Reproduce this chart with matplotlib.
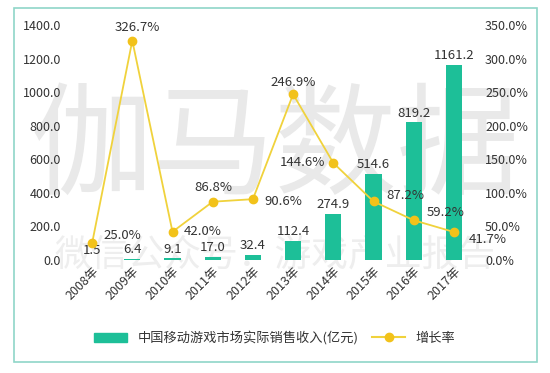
import matplotlib
matplotlib.use("Agg")
import matplotlib.pyplot as plt
from matplotlib.patches import Rectangle
from matplotlib.lines import Line2D

plt.rcParams['font.family'] = ['Noto Sans CJK SC', 'DejaVu Sans']

# data
years = ["2008年", "2009年", "2010年", "2011年", "2012年",
         "2013年", "2014年", "2015年", "2016年", "2017年"]
revenue = [1.5, 6.4, 9.1, 17.0, 32.4, 112.4, 274.9, 514.6, 819.2, 1161.2]
growth = [25.0, 326.7, 42.0, 86.8, 90.6, 246.9, 144.6, 87.2, 59.2, 41.7]
bar_name = "中国移动游戏市场实际销售收入(亿元)"
line_name = "增长率"

# where each growth label sits relative to its point (pixels)
growth_offsets = [(30, 8), (5, 13), (30, 0), (1, 14), (30, -2),
                  (0, 12), (-31, 0), (32, 6), (32, 8), (34, -7)]

bar_color = "#1dbf98"
line_color = "#f0d23c"
marker_color = "#f2c21a"
text_color = "#333333"

fig = plt.figure(figsize=(5.5, 3.73), dpi=100)

# outer frame
fig.patches.append(Rectangle((14 / 550, 1 - 362 / 373), 523 / 550, 354 / 373,
                             transform=fig.transFigure, fill=False,
                             edgecolor="#8fd6c8", linewidth=1.2))

# watermark
fig.text(0.5, 0.598, "伽马数据", ha="center", va="center", fontsize=88,
         color="#e9e9e9", zorder=-5)
fig.text(0.5, 0.316, "微信公众号：游戏产业报告", ha="center", va="center",
         fontsize=26.5, color="#eeeeee", zorder=-5)

ax = fig.add_axes([72 / 550, 1 - 260 / 373, 402 / 550, 235 / 373])
ax.patch.set_alpha(0)
x = list(range(len(years)))
ax.bar(x, revenue, width=0.4, color=bar_color, zorder=2)
ax.set_ylim(0, 1400)
ax.set_xlim(-0.5, len(years) - 0.5)
ax.set_yticks(range(0, 1401, 200))
ax.set_yticklabels([f"{v:.1f}" for v in range(0, 1401, 200)])
ax.set_xticks(x)
ax.set_xticklabels(years, rotation=45, ha="right", rotation_mode="anchor")
for i, v in enumerate(revenue):
    ax.annotate(f"{v:.1f}", (i, v), xytext=(0, 2), textcoords="offset points",
                ha="center", va="bottom", fontsize=9.5, color=text_color, zorder=5)

ax2 = ax.twinx()
ax2.plot(x, growth, color=line_color, linewidth=1.3, marker="o",
         markersize=6, markerfacecolor=marker_color, markeredgecolor=marker_color,
         zorder=3)
ax2.set_ylim(0, 350)
ax2.set_yticks(range(0, 351, 50))
ax2.set_yticklabels([f"{v:.1f}%" for v in range(0, 351, 50)])
for i, v in enumerate(growth):
    dx, dy = growth_offsets[i]
    ax2.annotate(f"{v:.1f}%", (i, v), xytext=(dx, dy), textcoords="offset pixels",
                 ha="center", va="center", fontsize=9.5, color=text_color, zorder=5)

for a in (ax, ax2):
    for s in a.spines.values():
        s.set_visible(False)
    a.tick_params(length=0, labelsize=9, colors=text_color)
ax.tick_params(axis="y", pad=8)
ax2.tick_params(axis="y", pad=8)

handles = [Rectangle((0, 0), 1, 1, color=bar_color),
           Line2D([0], [0], color=line_color, marker="o", markersize=6,
                  markerfacecolor=marker_color, markeredgecolor=marker_color)]
fig.legend(handles, [bar_name, line_name], loc="center", ncol=2,
           bbox_to_anchor=(0.5, 1 - 338 / 373), frameon=False, fontsize=9.5,
           handlelength=2.5, columnspacing=1.0, labelcolor=text_color)

fig.savefig("out.png", dpi=100)
